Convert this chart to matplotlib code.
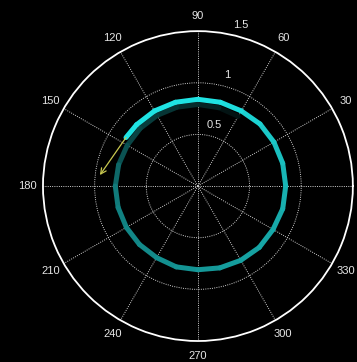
import numpy as np
import matplotlib
matplotlib.use("Agg")
import matplotlib.pyplot as plt
from matplotlib.collections import LineCollection

# trail of the moving point, oldest first (angle in degrees, radius, brightness)
trail_deg = [60, 75, 90, 105, 120, 135, 150, 165, 180, 195, 210, 225, 240, 255,
             270, 285, 300, 315, 330, 345, 360, 375, 390, 405, 420, 435, 450,
             465, 480, 495, 506]
trail_r = [0.78, 0.785, 0.79, 0.79, 0.79, 0.79, 0.79, 0.795, 0.80, 0.80, 0.80,
           0.80, 0.80, 0.81, 0.81, 0.82, 0.83, 0.84, 0.84, 0.85, 0.85, 0.85,
           0.85, 0.85, 0.84, 0.84, 0.84, 0.84, 0.84, 0.84, 0.84]
trail_level = [0.05, 0.12, 0.18, 0.22, 0.25, 0.28, 0.32, 0.40, 0.52, 0.56, 0.58,
               0.60, 0.62, 0.64, 0.66, 0.68, 0.70, 0.72, 0.74, 0.76, 0.78, 0.82,
               0.86, 0.90, 0.95, 1.0, 1.0, 1.0, 1.0, 1.0, 1.0]

# velocity arrow: tail at the head of the trail
arrow_tail = (146, 0.84)
arrow_tip = (173.6, 0.955)

angle_ticks = [0, 30, 60, 90, 120, 150, 180, 210, 240, 270, 300, 330]
radial_ticks = [0.5, 1.0, 1.5]
radial_labels = ["0.5", "1", "1.5"]

fig = plt.figure(figsize=(3.57, 3.62), dpi=100, facecolor="black")
ax = fig.add_axes([0.1204, 0.058, 0.868, 0.856], projection="polar")
ax.set_facecolor("black")
ax.set_ylim(0, 1.5)

ax.set_xticks(np.deg2rad(angle_ticks))
ax.set_xticklabels([])
ax.set_yticks(radial_ticks[:-1])
ax.set_yticklabels([])
ax.tick_params(length=0)
ax.grid(True, color="#d0d0d0", linestyle=(0, (1, 1.3)), linewidth=0.7)
ax.spines["polar"].set_color("white")
ax.spines["polar"].set_linewidth(1.3)

# angle labels (0 would fall off the canvas, as in the original)
for a in angle_ticks:
    if a == 0:
        continue
    ax.text(np.deg2rad(a), 1.65, str(a), ha="center", va="center",
            color="#e6e6e6", fontsize=8, family="Liberation Sans")

for r, lab in zip(radial_ticks, radial_labels):
    ax.text(np.deg2rad(75), r + 0.11, lab, ha="center", va="center",
            color="#e6e6e6", fontsize=8, family="Liberation Sans")

# fading trail
th = np.deg2rad(trail_deg)
pts = np.column_stack([th, trail_r])
segs = np.stack([pts[:-1], pts[1:]], axis=1)
lev = np.array(trail_level)
mid = (lev[:-1] + lev[1:]) / 2
bright = np.array([0.12, 0.89, 0.89])
colors = [tuple(bright * m) for m in mid]
lc = LineCollection(segs, colors=colors, linewidths=3.6, capstyle="round",
                    joinstyle="round")
ax.add_collection(lc)

ax.annotate("", xy=(np.deg2rad(arrow_tip[0]), arrow_tip[1]),
            xytext=(np.deg2rad(arrow_tail[0]), arrow_tail[1]),
            arrowprops=dict(arrowstyle="->", color="#c8c850", lw=0.9,
                            shrinkA=0, shrinkB=0, mutation_scale=10))

fig.savefig("out.png", dpi=100, facecolor="black")
